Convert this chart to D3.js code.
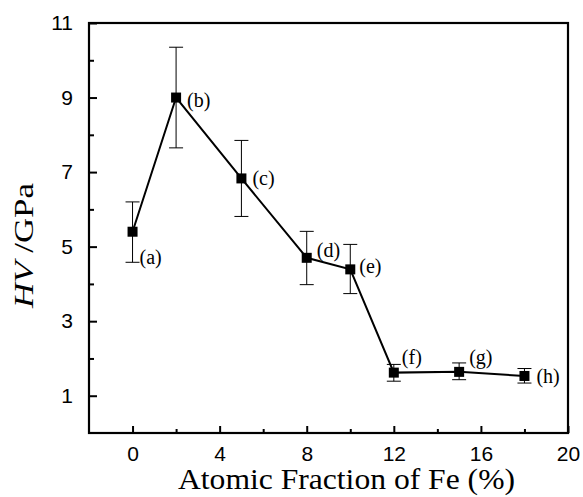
<!DOCTYPE html>
<html>
<head>
<meta charset="utf-8">
<script src="https://cdn.jsdelivr.net/npm/d3@7/dist/d3.min.js"></script>
<style>
  html, body { margin: 0; padding: 0; background: #fff; }
  svg { display: block; }
</style>
</head>
<body>
<svg id="chart" width="583" height="497"></svg>
<script>
// Vickers hardness vs. Fe content
const feFraction = [0, 2, 5, 8, 10, 12, 15, 18];
const hardness   = [5.4, 9.0, 6.83, 4.7, 4.39, 1.62, 1.64, 1.53];
const errHigh    = [0.8, 1.35, 1.02, 0.71, 0.67, 0.22, 0.24, 0.2];
const errLow     = [0.82, 1.35, 1.02, 0.72, 0.65, 0.23, 0.21, 0.19];
const sampleTags = ["(a)", "(b)", "(c)", "(d)", "(e)", "(f)", "(g)", "(h)"];
const xTickValues = [0, 4, 8, 12, 16, 20];
const xMinorTicks = [2, 6, 10, 14, 18];
const yTickValues = [1, 3, 5, 7, 9, 11];
const yMinorTicks = [2, 4, 6, 8, 10];

const points = feFraction.map((x, i) => ({
  x, y: hardness[i], hi: hardness[i] + errHigh[i], lo: hardness[i] - errLow[i], tag: sampleTags[i]
}));

// tag placement relative to each marker: [dx to text start, dy to text centre]
const tagOffset = [[7, 25], [11, 2], [11, 0], [10, -8], [9, -3], [8, -16], [10, -15], [12, 0]];

const svg = d3.select("#chart");
const plotL = 89, plotR = 568, plotT = 23, plotB = 433;

const x = d3.scaleLinear().domain([-2, 20]).range([plotL, plotR]);
const y = d3.scaleLinear().domain([0, 11]).range([plotB, plotT]);

const tickFont = "'Liberation Sans', Arial, sans-serif";
const serif = "'Liberation Serif', 'Times New Roman', serif";

// frame
svg.append("rect")
  .attr("x", plotL).attr("y", plotT)
  .attr("width", plotR - plotL).attr("height", plotB - plotT)
  .attr("fill", "none").attr("stroke", "#000").attr("stroke-width", 2.2);

// x axis: inward ticks
const xAxis = d3.axisBottom(x).tickValues(xTickValues).tickSizeInner(-7).tickSizeOuter(0).tickPadding(13).tickFormat(d3.format("d"));
const gx = svg.append("g").attr("transform", `translate(0,${plotB})`).call(xAxis);
gx.select(".domain").remove();
gx.selectAll(".tick line").attr("stroke", "#000").attr("stroke-width", 2);
gx.selectAll(".tick text").attr("font-family", tickFont).attr("font-size", 21).attr("fill", "#000");

const xMinor = d3.axisBottom(x).tickValues(xMinorTicks).tickSizeInner(-4).tickSizeOuter(0).tickFormat("");
const gxm = svg.append("g").attr("transform", `translate(0,${plotB})`).call(xMinor);
gxm.select(".domain").remove();
gxm.selectAll(".tick line").attr("stroke", "#000").attr("stroke-width", 2);

// y axis: inward ticks
const yAxis = d3.axisLeft(y).tickValues(yTickValues).tickSizeInner(-8).tickSizeOuter(0).tickPadding(16).tickFormat(d3.format("d"));
const gy = svg.append("g").attr("transform", `translate(${plotL},0)`).call(yAxis);
gy.select(".domain").remove();
gy.selectAll(".tick line").attr("stroke", "#000").attr("stroke-width", 2);
gy.selectAll(".tick text").attr("font-family", tickFont).attr("font-size", 21).attr("fill", "#000");

const yMinor = d3.axisLeft(y).tickValues(yMinorTicks).tickSizeInner(-5).tickSizeOuter(0).tickFormat("");
const gym = svg.append("g").attr("transform", `translate(${plotL},0)`).call(yMinor);
gym.select(".domain").remove();
gym.selectAll(".tick line").attr("stroke", "#000").attr("stroke-width", 2);

// error bars
const eb = svg.append("g").attr("stroke", "#000").attr("stroke-width", 1);
const capHalf = 7;
points.forEach(p => {
  eb.append("line").attr("x1", x(p.x)).attr("x2", x(p.x)).attr("y1", y(p.hi)).attr("y2", y(p.lo));
  eb.append("line").attr("x1", x(p.x) - capHalf).attr("x2", x(p.x) + capHalf).attr("y1", y(p.hi)).attr("y2", y(p.hi));
  eb.append("line").attr("x1", x(p.x) - capHalf).attr("x2", x(p.x) + capHalf).attr("y1", y(p.lo)).attr("y2", y(p.lo));
});

// connecting line
svg.append("path")
  .datum(points)
  .attr("fill", "none").attr("stroke", "#000").attr("stroke-width", 2)
  .attr("d", d3.line().x(d => x(d.x)).y(d => y(d.y)));

// square markers
const ms = 10;
svg.append("g").selectAll("rect").data(points).join("rect")
  .attr("x", d => x(d.x) - ms / 2).attr("y", d => y(d.y) - ms / 2)
  .attr("width", ms).attr("height", ms).attr("fill", "#000");

// sample tags
svg.append("g").selectAll("text").data(points).join("text")
  .attr("x", (d, i) => x(d.x) + tagOffset[i][0])
  .attr("y", (d, i) => y(d.y) + tagOffset[i][1])
  .attr("dy", "0.35em")
  .attr("font-family", serif).attr("font-size", 20).attr("fill", "#000")
  .text(d => d.tag);

// axis titles
svg.append("text")
  .attr("x", 346.5).attr("y", 489)
  .attr("text-anchor", "middle")
  .attr("font-family", serif).attr("font-size", 29).attr("fill", "#000")
  .attr("textLength", 337).attr("lengthAdjust", "spacingAndGlyphs")
  .text("Atomic Fraction of Fe (%)");

const yt = svg.append("text")
  .attr("transform", "translate(33,245.5) rotate(-90)")
  .attr("text-anchor", "middle")
  .attr("font-family", serif).attr("font-size", 27).attr("fill", "#000")
  .attr("textLength", 125).attr("lengthAdjust", "spacingAndGlyphs");
yt.append("tspan").attr("font-style", "italic").text("HV");
yt.append("tspan").text(" /GPa");
</script>
</body>
</html>
